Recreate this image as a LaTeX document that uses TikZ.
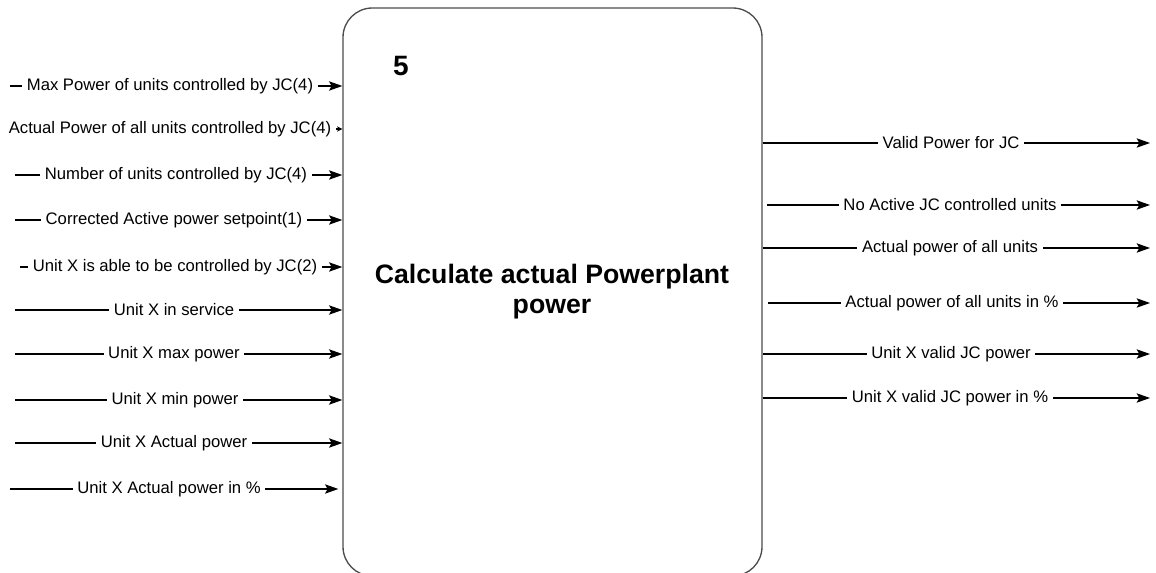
\documentclass[tikz,border=0pt]{standalone}
\usepackage{fontspec}
\setmainfont{Liberation Sans}
\usetikzlibrary{arrows.meta}
\begin{document}
\begin{tikzpicture}[x=0.75pt,y=-0.75pt,
  lbl/.style={fill=white,inner xsep=3.5pt,inner ysep=1.5pt,font=\fontsize{12.5pt}{15pt}\selectfont},
  conn/.style={draw=black,line width=0.9pt,-{Stealth[length=10pt,width=7pt,inset=2pt]}},
  smallconn/.style={draw=black,line width=0.9pt,-{Stealth[length=4pt,width=4pt]}},
  procbox/.style={draw=black!70,line width=1pt,rounded corners=22pt,minimum width=314.25pt,minimum height=426pt,inner sep=0pt}]
\useasboundingbox (0,0) rectangle (1156,573);
\node[procbox] (box) at (552.5,292) {};
\node[font=\bfseries\fontsize{21pt}{24pt}\selectfont] (num) at (401,66) {5};
\node[font=\bfseries\fontsize{20pt}{22.5pt}\selectfont,align=center] (title) at (552,292) {Calculate actual Powerplant\\power};
% inputs
\coordinate (i1) at (10,86);
\coordinate (i2) at (10,129);
\coordinate (i3) at (15,175);
\coordinate (i4) at (15,220);
\coordinate (i5) at (20,267);
\coordinate (i6) at (15,310);
\coordinate (i7) at (15,354);
\coordinate (i8) at (15,400);
\coordinate (i9) at (15,443);
\coordinate (i10) at (10,489);
\draw[conn] (i1) -- (i1 -| box.west);
\draw[smallconn] (i2) -- (i2 -| box.west);
\draw[conn] (i3) -- (i3 -| box.west);
\draw[conn] (i4) -- (i4 -| box.west);
\draw[conn] (i5) -- (i5 -| box.west);
\draw[conn] (i6) -- (i6 -| box.west);
\draw[conn] (i7) -- (i7 -| box.west);
\draw[conn] (i8) -- (i8 -| box.west);
\draw[conn] (i9) -- (i9 -| box.west);
\draw[conn] (i10) -- ([xshift=-3]i10 -| box.west);
\node[lbl] (l1) at (170,86) {Max Power of units controlled by JC(4)};
\node[lbl] (l2) at (170,129) {Actual Power of all units controlled by JC(4)};
\node[lbl] (l3) at (176,175) {Number of units controlled by JC(4)};
\node[lbl] (l4) at (174,220) {Corrected Active power setpoint(1)};
\node[lbl] (l5) at (175,267) {Unit X is able to be controlled by JC(2)};
\node[lbl] (l6) at (174,310) {Unit X in service};
\node[lbl] (l7) at (174,354) {Unit X max power};
\node[lbl] (l8) at (175,400) {Unit X min power};
\node[lbl] (l9) at (174,443) {Unit X Actual power};
\node[lbl] (l10) at (169,489) {Unit X Actual power in \%};
% outputs
\coordinate (o1) at (1150,143);
\coordinate (o2) at (1150,205);
\coordinate (o3) at (1150,248);
\coordinate (o4) at (1150,303);
\coordinate (o5) at (1150,354);
\coordinate (o6) at (1150,398);
\draw[conn] (o1 -| box.east) -- (o1);
\draw[conn] ([xshift=3]o2 -| box.east) -- (o2);
\draw[conn] (o3 -| box.east) -- (o3);
\draw[conn] ([xshift=4]o4 -| box.east) -- (o4);
\draw[conn] (o5 -| box.east) -- (o5);
\draw[conn] (o6 -| box.east) -- (o6);
\node[lbl] (r1) at (951,143) {Valid Power for JC};
\node[lbl] (r2) at (950,205) {No Active JC controlled units};
\node[lbl] (r3) at (950,248) {Actual power of all units};
\node[lbl] (r4) at (952,303) {Actual power of all units in \%};
\node[lbl] (r5) at (951,354) {Unit X valid JC power};
\node[lbl] (r6) at (950,398) {Unit X valid JC power in \%};
\end{tikzpicture}
\end{document}
